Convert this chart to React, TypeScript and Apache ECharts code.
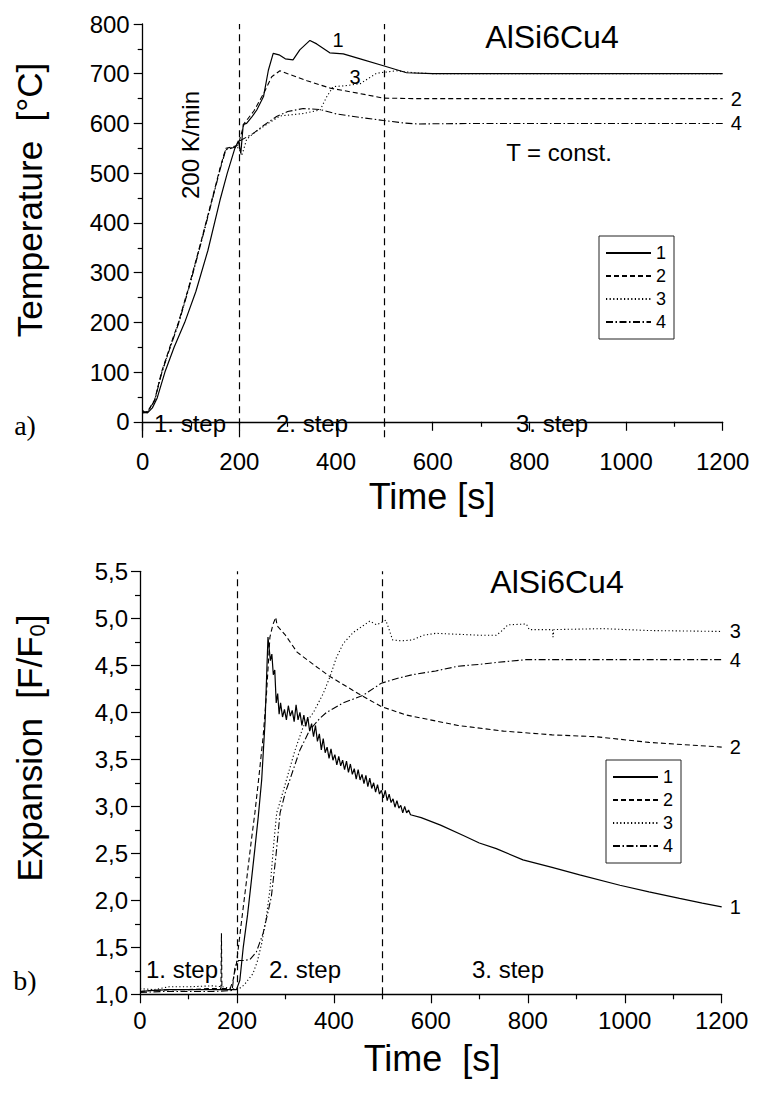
import React, { useEffect, useRef } from 'react';
import * as echarts from 'echarts';

// ---------- a) Temperature vs time ----------
const topT1 = [0, 10, 20, 30, 46, 65, 87, 110, 135, 160, 175, 190, 198, 203, 208, 215, 225, 236, 250, 260, 270, 282, 295, 311, 325, 346, 360, 387, 415, 450, 498, 546, 600, 700, 800, 900, 1000, 1100, 1200];
const topV1 = [20, 18, 28, 48, 100, 150, 200, 262, 345, 446, 500, 548, 565, 540, 598, 600, 612, 627, 654, 707, 741, 738, 730, 728, 748, 767, 760, 742, 740, 730, 716, 702, 700, 700, 700, 700, 700, 700, 700];
const topT2 = [0, 10, 25, 39, 56, 74, 95, 120, 143, 160, 172, 185, 195, 200, 210, 230, 250, 267, 284, 300, 340, 388, 450, 498, 560, 700, 900, 1200];
const topV2 = [20, 20, 45, 100, 150, 200, 270, 360, 446, 510, 550, 553, 555, 565, 600, 625, 660, 694, 706, 700, 686, 671, 660, 651, 650, 650, 650, 650];
const topT3 = [0, 10, 25, 39, 56, 74, 95, 120, 143, 160, 172, 185, 195, 200, 205, 215, 229, 250, 284, 332, 367, 381, 394, 420, 450, 484, 525, 560, 600, 800, 1000, 1200];
const topV3 = [22, 20, 44, 98, 148, 198, 268, 358, 444, 508, 548, 552, 553, 548, 535, 568, 580, 594, 615, 620, 627, 654, 674, 676, 680, 701, 706, 702, 700, 700, 700, 700];
const topT4 = [0, 10, 25, 39, 56, 74, 95, 120, 143, 160, 172, 190, 201, 229, 250, 277, 300, 332, 367, 401, 450, 498, 540, 567, 700, 900, 1200];
const topV4 = [18, 19, 43, 97, 147, 197, 267, 357, 443, 507, 547, 552, 565, 580, 596, 614, 624, 630, 628, 619, 612, 606, 601, 599, 600, 600, 600];

// ---------- b) Expansion vs time ----------
const botT1 = [0, 20, 60, 100, 150, 190, 199, 206, 213, 222,
  230, 237, 244, 251, 258, 262, 264, 266, 269, 272,
  275, 278, 281, 284, 287, 290, 294, 298, 302, 306,
  310, 314, 318, 322, 326, 330, 334, 338, 342, 346,
  350, 354, 358, 362, 366, 370, 374, 378, 382, 386,
  390, 394, 398, 402, 406, 410, 414, 418, 422, 426,
  430, 434, 438, 442, 446, 450, 454, 458, 462, 466,
  470, 474, 478, 482, 486, 490, 494, 498, 502, 506,
  510, 514, 518, 522, 526, 530, 534, 538, 542, 546,
  550, 554, 558, 580, 620, 667, 700, 735, 790, 850,
  907, 990, 1050, 1113, 1160, 1200];
const botV1 = [1.03, 1.04, 1.05, 1.05, 1.05, 1.05, 1.05, 1.15, 1.5, 1.85,
  2.22, 2.55, 2.89, 3.28, 3.9, 4.5, 4.8, 4.7, 4.55, 4.62,
  4.4, 4.45, 4.1, 4.2, 3.98, 4.1, 3.95, 4.03, 3.92, 4.07,
  3.96, 4.02, 3.9, 4.08, 3.92, 4.0, 3.86, 3.97, 3.85, 3.95,
  3.8, 3.88, 3.74, 3.86, 3.69, 3.77, 3.6, 3.72, 3.57, 3.63,
  3.51, 3.61, 3.49, 3.55, 3.44, 3.53, 3.43, 3.49, 3.39, 3.48,
  3.36, 3.45, 3.34, 3.4, 3.29, 3.39, 3.28, 3.34, 3.24, 3.33,
  3.21, 3.3, 3.19, 3.25, 3.15, 3.23, 3.13, 3.17, 3.09, 3.17,
  3.06, 3.13, 3.04, 3.08, 2.99, 3.06, 2.98, 3.01, 2.93, 3.0,
  2.93, 2.96, 2.91, 2.88, 2.8, 2.69, 2.61, 2.55, 2.43, 2.35,
  2.27, 2.16, 2.09, 2.02, 1.97, 1.93];
const botT2 = [0, 20, 60, 100, 140, 167, 168, 169, 186, 192, 199, 210, 220, 230, 237, 245, 254, 261, 268, 274, 280, 283, 300, 324, 360, 392, 450, 498, 550, 598, 656, 750, 850, 941, 1050, 1200];
const botV2 = [1.03, 1.04, 1.05, 1.05, 1.06, 1.06, 1.65, 1.06, 1.06, 1.15, 1.33, 1.8, 2.22, 2.65, 2.93, 3.3, 3.74, 4.2, 4.8, 4.93, 5.01, 4.92, 4.82, 4.64, 4.5, 4.38, 4.2, 4.06, 3.97, 3.92, 3.86, 3.8, 3.76, 3.74, 3.68, 3.63];
const botT3 = [0, 30, 60, 100, 150, 170, 190, 202, 215, 233, 242, 251, 260, 268, 275, 282, 292, 302, 320, 337, 358, 378, 392, 405, 419, 440, 460, 474, 488, 500, 507, 514, 521, 540, 562, 585, 610, 656, 700, 735, 745, 759, 797, 803, 830, 851, 852, 854, 955, 1050, 1200];
const botV3 = [1.06, 1.05, 1.08, 1.08, 1.09, 1.08, 1.06, 1.05, 1.1, 1.22, 1.35, 1.54, 1.8, 2.11, 2.55, 2.93, 3.1, 3.28, 3.6, 3.85, 4.0, 4.2, 4.38, 4.58, 4.73, 4.85, 4.92, 4.97, 4.93, 4.96, 4.98, 4.88, 4.77, 4.76, 4.77, 4.82, 4.84, 4.83, 4.82, 4.82, 4.86, 4.93, 4.94, 4.88, 4.88, 4.88, 4.8, 4.88, 4.89, 4.87, 4.86];
const botT4 = [0, 50, 100, 150, 190, 196, 203, 215, 227, 240, 254, 263, 271, 280, 289, 300, 309, 330, 350, 370, 385, 419, 460, 498, 530, 562, 610, 656, 700, 735, 797, 900, 1000, 1200];
const botV4 = [1.02, 1.03, 1.03, 1.03, 1.04, 1.29, 1.36, 1.36, 1.37, 1.45, 1.65, 1.85, 2.04, 2.45, 2.93, 3.15, 3.28, 3.6, 3.81, 3.93, 4.0, 4.1, 4.18, 4.31, 4.36, 4.4, 4.44, 4.49, 4.51, 4.53, 4.56, 4.56, 4.56, 4.56];

const seriesNames = ['1', '2', '3', '4'];
const stepMarks = [200, 500];
const tempLabels = [0, 100, 200, 300, 400, 500, 600, 700, 800];
const tempMinor = [50, 150, 250, 350, 450, 550, 650, 750];

const FONT = '"Liberation Sans", Arial, Helvetica, sans-serif';
const SERIF = '"Liberation Serif", "Times New Roman", serif';
const BLACK = '#000';

const zip = (t: number[], v: number[]) => t.map((x, i) => [x, v[i]]);

const dashTypes: any[] = ['solid', [5, 3], [1.2, 2.4], [7, 2.5, 1.5, 2.5]];
const widths = [1.2, 1.1, 1.1, 1.1];

function makeSeries(idx: number, data: number[][], axisIdx: number, endLabel: boolean, withMark: boolean): any {
  const s: any = {
    name: seriesNames[idx],
    type: 'line',
    xAxisIndex: axisIdx,
    yAxisIndex: axisIdx === 0 ? 0 : 2,
    data,
    showSymbol: false,
    symbol: 'none',
    smooth: false,
    lineStyle: { color: BLACK, width: widths[idx], type: dashTypes[idx] },
    itemStyle: { color: BLACK },
    emphasis: { disabled: true },
    z: 3,
  };
  if (endLabel) {
    s.endLabel = {
      show: true, formatter: '{a}', color: BLACK, fontSize: 20, fontFamily: FONT, distance: 8,
    };
  }
  if (withMark) {
    s.markLine = {
      silent: true, symbol: 'none', animation: false,
      label: { show: false },
      lineStyle: { color: BLACK, type: [7, 5], width: 1.2 },
      data: stepMarks.map((v) => ({ xAxis: v })),
    };
  }
  return s;
}

const axisLineStyle = { show: true, lineStyle: { color: BLACK, width: 1.3 } };

const legendCommon: any = {
  orient: 'vertical',
  itemWidth: 45,
  itemHeight: 14,
  itemGap: 5,
  padding: [8, 8, 8, 6],
  borderColor: '#222',
  borderWidth: 1,
  selectedMode: false,
  data: seriesNames,
  itemStyle: { color: 'transparent', borderColor: 'transparent', borderWidth: 0, opacity: 0 },
  textStyle: { color: BLACK, fontSize: 18, fontFamily: FONT },
};

const txt = (text: string, x: number, y: number, size: number, extra: any = {}) => ({
  type: 'text', x, y, silent: true,
  style: { text, fill: BLACK, font: `${size}px ${FONT}`, align: 'center', verticalAlign: 'middle' },
  ...extra,
});

const option: any = {
  animation: false,
  backgroundColor: '#fff',
  grid: [
    { left: 142.7, top: 24, width: 580, height: 413.2 },
    { left: 140, top: 571.3, width: 581.7, height: 423 },
  ],
  xAxis: [0, 1].map((g) => ({
    type: 'value', gridIndex: g, min: 0, max: 1200, interval: 200,
    axisLine: axisLineStyle,
    axisTick: { show: true, length: 9, lineStyle: { color: BLACK, width: 1.2 } },
    minorTick: { show: true, splitNumber: 2, length: 5, lineStyle: { color: BLACK, width: 1.2 } },
    splitLine: { show: false },
    minorSplitLine: { show: false },
    axisLabel: {
      color: BLACK, fontSize: 24, fontFamily: FONT, margin: g === 0 ? 12 : 14,
      formatter: (v: number) => String(v),
    },
  })),
  yAxis: [
    {
      type: 'value', gridIndex: 0, min: -31, max: 800,
      axisLine: axisLineStyle,
      axisTick: { show: true, length: 9, customValues: tempLabels, lineStyle: { color: BLACK, width: 1.2 } },
      axisLabel: {
        color: BLACK, fontSize: 24, fontFamily: FONT, margin: 13, customValues: tempLabels,
        formatter: (v: number) => String(v),
      },
      splitLine: { show: false },
    },
    {
      type: 'value', gridIndex: 0, min: -31, max: 800, position: 'left',
      axisLine: { show: false },
      axisTick: { show: true, length: 5, customValues: tempMinor, lineStyle: { color: BLACK, width: 1.2 } },
      axisLabel: { show: false },
      splitLine: { show: false },
    },
    {
      type: 'value', gridIndex: 1, min: 1, max: 5.5, interval: 0.5,
      axisLine: axisLineStyle,
      axisTick: { show: true, length: 9, lineStyle: { color: BLACK, width: 1.2 } },
      minorTick: { show: true, splitNumber: 2, length: 5, lineStyle: { color: BLACK, width: 1.2 } },
      splitLine: { show: false },
      minorSplitLine: { show: false },
      axisLabel: {
        color: BLACK, fontSize: 24, fontFamily: FONT, margin: 12,
        formatter: (v: number) => v.toFixed(1).replace('.', ','),
      },
    },
  ],
  legend: [
    { ...legendCommon, left: 599, top: 236 },
    { ...legendCommon, left: 606, top: 760 },
  ],
  series: [
    makeSeries(0, zip(topT1, topV1), 0, false, true),
    makeSeries(1, zip(topT2, topV2), 0, true, false),
    makeSeries(2, zip(topT3, topV3), 0, false, false),
    makeSeries(3, zip(topT4, topV4), 0, true, false),
    makeSeries(0, zip(botT1, botV1), 1, true, true),
    makeSeries(1, zip(botT2, botV2), 1, true, false),
    makeSeries(2, zip(botT3, botV3), 1, true, false),
    makeSeries(3, zip(botT4, botV4), 1, true, false),
  ],
  graphic: {
    elements: [
      // chart a
      txt('AlSi6Cu4', 552, 37, 32),
      txt('1', 338, 40, 20),
      txt('3', 355, 77, 20),
      txt('T = const.', 559, 152, 24),
      txt('200 K/min', 190, 145, 24, { rotation: Math.PI / 2 }),
      txt('1. step', 190, 423, 24),
      txt('2. step', 312, 423, 24),
      txt('3. step', 552, 423, 24),
      txt('Time [s]', 432, 496, 36),
      txt('Temperature  [°C]', 29, 200, 35, { rotation: Math.PI / 2 }),
      {
        type: 'text', x: 25, y: 425, silent: true,
        style: { text: 'a)', fill: BLACK, font: `28px ${SERIF}`, align: 'center', verticalAlign: 'middle' },
      },
      // chart b
      txt('AlSi6Cu4', 557, 582, 32),
      txt('1. step', 182, 969, 24),
      txt('2. step', 305, 969, 24),
      txt('3. step', 508, 969, 24),
      txt('Time  [s]', 432, 1058, 36),
      {
        type: 'text', x: 29, y: 748, rotation: Math.PI / 2, silent: true,
        style: {
          text: 'Expansion  [F/F{sub|0}]',
          fill: BLACK, font: `35px ${FONT}`, align: 'center', verticalAlign: 'middle',
          rich: { sub: { fontSize: 22, fontFamily: FONT, fill: BLACK, padding: [16, 0, 0, 0] } },
        },
      },
      {
        type: 'text', x: 25, y: 980, silent: true,
        style: { text: 'b)', fill: BLACK, font: `28px ${SERIF}`, align: 'center', verticalAlign: 'middle' },
      },
    ],
  },
};

export default function App() {
  const ref = useRef<HTMLDivElement>(null);
  useEffect(() => {
    const chart = echarts.init(ref.current as HTMLDivElement, null, { renderer: 'svg' });
    chart.setOption(option);
    return () => chart.dispose();
  }, []);
  return (
    <div
      ref={ref}
      style={{ position: 'absolute', left: 0, top: 0, width: 758, height: 1093, background: '#fff' }}
    />
  );
}
